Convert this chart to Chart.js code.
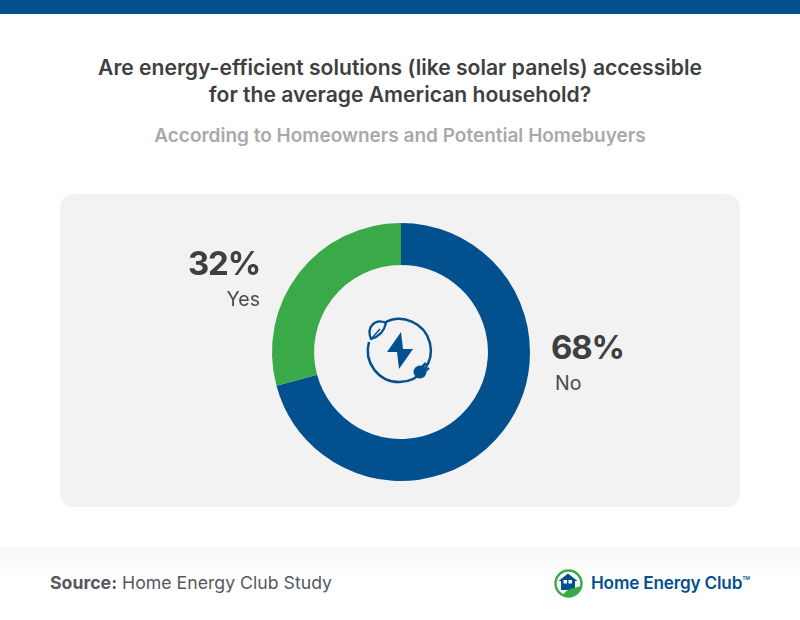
<!DOCTYPE html>
<html>
<head>
<meta charset="utf-8">
<script src="https://cdn.jsdelivr.net/npm/chart.js@4"></script>
<style>
    html, body { margin: 0; padding: 0; background: #fff; }
    body { position: relative; width: 800px; height: 620px; overflow: hidden; font-family: Inter, sans-serif; color: #3f3f3f; }
    .abs { position: absolute; white-space: nowrap; }
    .center { left: 0; width: 800px; text-align: center; }
    #topbar { left: 0; top: 0; width: 800px; height: 14px; background: #03508f; }
    #panel { left: 60px; top: 194px; width: 680px; height: 313px; background: #f2f2f2; border-radius: 14px; }
    #footer { left: 0; top: 547px; width: 800px; height: 30px; background: linear-gradient(#f6f6f6, #ffffff); }
    #wrap { left: 250.500px; top: 202px; width: 300px; height: 300px; }
    .title { font-size: 21.1px; font-weight: 600; line-height: 28px; }
    .sub { font-size: 19px; font-weight: 600; color: #a9a9a9; }
    .pct { font-size: 33px; font-weight: 700; line-height: 40px; letter-spacing: -1.200px; }
    .cat { font-size: 19.500px; font-weight: 400; color: #4a4a4a; line-height: 24px; }
    .src { font-size: 17.700px; color: #55585f; }
    .brand { font-size: 17.200px; font-weight: 600; color: #03508f; letter-spacing: -0.2px; }
</style>
</head>
<body>
<div class="abs" id="topbar"></div>
<div class="abs center title" style="top:54px">Are energy-efficient solutions (like solar panels) accessible</div>
<div class="abs center title" style="top:81px">for the average American household?</div>
<div class="abs center sub" style="top:124px">According to Homeowners and Potential Homebuyers</div>
<div class="abs" id="panel"></div>
<div class="abs" id="wrap"><canvas id="chart1" width="300" height="300"></canvas></div>

<!-- center icon -->
<svg class="abs" style="left:360px;top:312px" width="80" height="80" viewBox="0 0 80 80">
    <path d="M24 11 A31.500 31.500 0 1 1 9 30" fill="none" stroke="#03508f" stroke-width="2.500"/>
    <path d="M11 27 C6 15 15 6 26 11 C24 20 18 25 11 27 Z" fill="#f2f2f2" stroke="#03508f" stroke-width="2.200"/>
    <path d="M12 26 L20 17" stroke="#03508f" stroke-width="1.500" fill="none"/>
    <path d="M41 20 L27 40 L37 40 L39 57 L53 37 L43 37 Z" fill="#03508f"/>
    <circle cx="60" cy="60" r="6.500" fill="#03508f"/>
    <path d="M62 55 L66 51 M65 59 L69 56" stroke="#03508f" stroke-width="2.500"/>
</svg>

<div class="abs" id="footer"></div>
<div class="abs src" style="left:50px;top:572px"><b style="font-weight:700">Source:</b> Home Energy Club Study</div>

<!-- logo -->
<svg class="abs" style="left:553px;top:568px" width="32" height="32" viewBox="0 0 32 32">
    <circle cx="15.500" cy="15.500" r="13" fill="#fff" stroke="#3aaa48" stroke-width="2.400"/>
    <path d="M5.500 13 L15 5.500 L24.500 13 L22 13 L22 22 L8 22 L8 13 Z" fill="#03508f"/>
    <rect x="10.500" y="12" width="3.500" height="3.500" fill="#fff"/>
    <rect x="15.500" y="12" width="3.500" height="3.500" fill="#fff"/>
    <path d="M10 27 C13 21 21 20 28 18 C27 25 18 31 10 27 Z" fill="#3aaa48"/>
</svg>
<div class="abs brand" style="left:591px;top:572px">Home Energy Club<sup style="font-size:5px;vertical-align:9px">TM</sup></div>

<script>
    const categories = ['No', 'Yes'];
    const printedLabels = ['68%', '32%'];
    // arc sweep as measured on the reference, it does not follow the printed 68/32
    const arcShares = [70.8, 29.2];
    const sliceColors = ['#03508f', '#3aaa48'];

    const labelSpots = [
        { pctLeft: 551, pctTop: 327, catLeft: 555, catTop: 371 },
        { pctRight: 260, pctTop: 243, catRight: 260, catTop: 287 },
    ];

    new Chart(document.getElementById('chart1'), {
        type: 'doughnut',
        data: {
            labels: categories,
            datasets: [{
                data: arcShares,
                backgroundColor: sliceColors,
                borderWidth: 0,
            }],
        },
        options: {
            responsive: false,
            animation: false,
            radius: 129,
            cutout: '67.4%',
            plugins: { legend: { display: false }, tooltip: { enabled: false } },
        },
    });

    categories.forEach((cat, i) => {
        const spot = labelSpots[i];
        const pct = document.createElement('div');
        pct.className = 'abs pct';
        pct.textContent = printedLabels[i];
        pct.style.top = spot.pctTop + 'px';
        const name = document.createElement('div');
        name.className = 'abs cat';
        name.textContent = cat;
        name.style.top = spot.catTop + 'px';
        if (spot.pctLeft) {
            pct.style.left = spot.pctLeft + 'px';
            name.style.left = spot.catLeft + 'px';
        } else {
            pct.style.right = (800 - spot.pctRight) + 'px';
            name.style.right = (800 - spot.catRight) + 'px';
        }
        document.body.appendChild(pct);
        document.body.appendChild(name);
    });
</script>
</body>
</html>
